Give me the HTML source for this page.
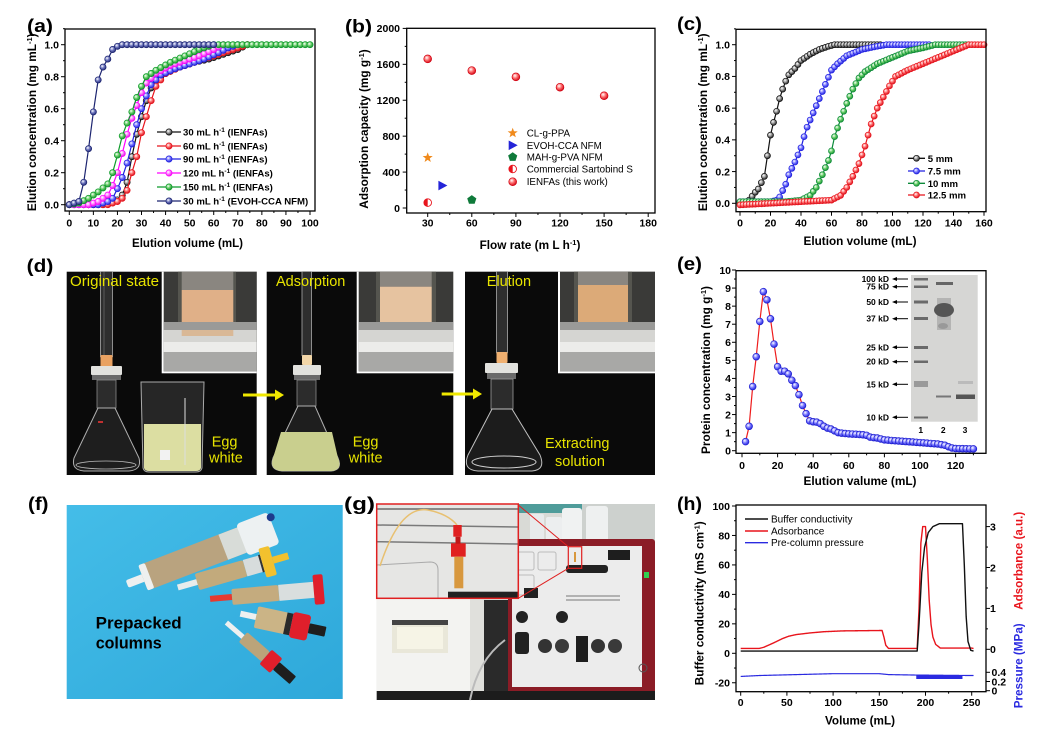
<!DOCTYPE html>
<html><head><meta charset="utf-8"><title>figure</title>
<style>
html,body{margin:0;padding:0;background:#fff;width:1040px;height:736px;overflow:hidden}
svg{display:block}
text{font-family:"Liberation Sans",Arial,sans-serif;fill:#000}
.t{font-size:10.5px;font-weight:bold}
.ti{font-size:11.8px;font-weight:bold}
.pl{font-size:18px;font-weight:bold}
.lg{font-size:9.6px;font-weight:bold}
.lr{font-size:9.8px}
.yl{font-size:14.5px;fill:#e8e400}
.gel{font-family:"Liberation Serif",serif;font-size:8.5px;font-weight:bold}
</style></head><body>
<svg id="s" width="1040" height="736" viewBox="0 0 1040 736" xmlns="http://www.w3.org/2000/svg">
<defs>
<radialGradient id="gK" cx=".38" cy=".35" r=".7"><stop offset="0" stop-color="#fff"/><stop offset=".45" stop-color="#999"/><stop offset="1" stop-color="#111"/></radialGradient>
<radialGradient id="gR" cx=".38" cy=".35" r=".7"><stop offset="0" stop-color="#fff"/><stop offset=".45" stop-color="#ff7070"/><stop offset="1" stop-color="#d00010"/></radialGradient>
<radialGradient id="gB" cx=".38" cy=".35" r=".7"><stop offset="0" stop-color="#fff"/><stop offset=".45" stop-color="#7c7cff"/><stop offset="1" stop-color="#1a1ad8"/></radialGradient>
<radialGradient id="gM" cx=".38" cy=".35" r=".7"><stop offset="0" stop-color="#fff"/><stop offset=".45" stop-color="#ff80ff"/><stop offset="1" stop-color="#e000e0"/></radialGradient>
<radialGradient id="gG" cx=".38" cy=".35" r=".7"><stop offset="0" stop-color="#fff"/><stop offset=".45" stop-color="#6cd06c"/><stop offset="1" stop-color="#0c8a2a"/></radialGradient>
<radialGradient id="gN" cx=".38" cy=".35" r=".7"><stop offset="0" stop-color="#fff"/><stop offset=".45" stop-color="#7078c0"/><stop offset="1" stop-color="#1c2470"/></radialGradient>
<linearGradient id="blueBg" x1="0" y1="0" x2="1" y2="1"><stop offset="0" stop-color="#44bde8"/><stop offset="1" stop-color="#2ea8da"/></linearGradient>
</defs>

<!-- ============ (d) photos ============ -->
<g>
 <rect x="66.7" y="271.7" width="190" height="203.3" fill="#0a0a0a"/>
 <rect x="100" y="271.7" width="13" height="86" fill="#2e2e2e"/>
 <line x1="100.5" y1="271.7" x2="100.5" y2="357" stroke="#9a9a9a" stroke-width=".9"/>
 <line x1="112.5" y1="271.7" x2="112.5" y2="357" stroke="#9a9a9a" stroke-width=".9"/>
 <line x1="104" y1="271.7" x2="104" y2="355" stroke="#777" stroke-width=".6"/>
 <rect x="100.5" y="355" width="12" height="12" rx="1" fill="#e9a262"/>
 <rect x="91" y="366" width="31" height="9" rx="1" fill="#e2e2de"/>
 <rect x="92" y="375" width="29" height="5" fill="#6a6a6a"/>
 <rect x="97" y="380" width="19" height="28" fill="#2c2c2c" stroke="#8a8a8a" stroke-width=".8"/>
 <path d="M98 408 L74 458 Q71 470 84 471 L129 471 Q142 470 139 458 L115 408 Z" fill="#1e1e1e" stroke="#b0b0b0" stroke-width="1"/>
 <ellipse cx="106" cy="465" rx="30" ry="4" fill="none" stroke="#bbb" stroke-width=".8"/>
 <rect x="98" y="421" width="5" height="2" fill="#c03030"/>
 <path d="M141 382 L204 382 L202 468 Q201 472 196 472 L149 472 Q144 472 143 468 Z" fill="#262626" stroke="#aaa" stroke-width="1"/>
 <path d="M144 424 L201 424 L201 468 Q200 471 196 471 L149 471 Q145 471 144 468 Z" fill="#dcdea2"/>
 <rect x="160" y="450" width="10" height="10" fill="#f2f2f2"/>
 <line x1="185" y1="398" x2="185" y2="465" stroke="#ddd" stroke-width="1"/>
 <!-- inset 1 -->
 <rect x="161.7" y="271.7" width="95" height="101.6" fill="#fff"/>
 <rect x="163.7" y="271.7" width="93" height="99.6" fill="#3a3a38"/>
 <rect x="178" y="271.7" width="58" height="55" fill="#55554f"/>
 <rect x="181.7" y="271.7" width="51.6" height="18.3" fill="#8a8680"/>
 <rect x="181.7" y="290" width="51.6" height="40" fill="#e0b088"/>
 <rect x="163.7" y="322" width="93" height="8" fill="#9a9a98"/>
 <rect x="163.7" y="330" width="93" height="12" fill="#d5d5d2"/>
 <rect x="163.7" y="342" width="93" height="10" fill="#ececea"/>
 <rect x="163.7" y="352" width="93" height="19.6" fill="#a8a8a6"/>
 <rect x="181.7" y="330" width="51.6" height="6" fill="#d9b896"/>
</g>
<g>
 <rect x="266.7" y="271.7" width="186.6" height="203.3" fill="#0a0a0a"/>
 <rect x="301.7" y="271.7" width="10" height="84" fill="#2e2e2e"/>
 <line x1="302" y1="271.7" x2="302" y2="356" stroke="#9a9a9a" stroke-width=".9"/>
 <line x1="311.5" y1="271.7" x2="311.5" y2="356" stroke="#9a9a9a" stroke-width=".9"/>
 <rect x="302" y="355" width="10" height="10" rx="1" fill="#f2d6a8"/>
 <rect x="293" y="365" width="28" height="10" rx="1" fill="#e2e2de"/>
 <rect x="294" y="375" width="26" height="5" fill="#6a6a6a"/>
 <rect x="297" y="380" width="19" height="26" fill="#2c2c2c" stroke="#8a8a8a" stroke-width=".8"/>
 <path d="M298 406 L273 458 Q269 470 282 471 L331 471 Q343 470 338 458 L315 406 Z" fill="#1e1e1e" stroke="#b0b0b0" stroke-width="1"/>
 <path d="M281 432 L332 432 L338 458 Q343 470 331 471 L282 471 Q269 470 273 458 Z" fill="#c9cf8e"/>
 <rect x="356.7" y="271.7" width="98.3" height="101.6" fill="#fff"/>
 <rect x="358.7" y="271.7" width="94.6" height="99.6" fill="#3a3a38"/>
 <rect x="376" y="271.7" width="60" height="55" fill="#55554f"/>
 <rect x="380" y="271.7" width="51.7" height="15" fill="#8a8680"/>
 <rect x="380" y="286.7" width="51.7" height="43.3" fill="#e6c3a0"/>
 <rect x="358.7" y="322" width="94.6" height="8" fill="#9a9a98"/>
 <rect x="358.7" y="330" width="94.6" height="12" fill="#d5d5d2"/>
 <rect x="358.7" y="342" width="94.6" height="10" fill="#ececea"/>
 <rect x="358.7" y="352" width="94.6" height="19.6" fill="#a8a8a6"/>
</g>
<g>
 <rect x="465" y="271.7" width="190" height="203.3" fill="#0a0a0a"/>
 <rect x="496" y="271.7" width="12" height="82" fill="#2e2e2e"/>
 <line x1="496.5" y1="271.7" x2="496.5" y2="353" stroke="#9a9a9a" stroke-width=".9"/>
 <line x1="507.5" y1="271.7" x2="507.5" y2="353" stroke="#9a9a9a" stroke-width=".9"/>
 <rect x="496.5" y="352" width="11" height="11" rx="1" fill="#f0b070"/>
 <rect x="485" y="363" width="33" height="10" rx="1" fill="#e2e2de"/>
 <rect x="487" y="373" width="29" height="6" fill="#6a6a6a"/>
 <rect x="491" y="379" width="22" height="30" fill="#2c2c2c" stroke="#9a9a9a" stroke-width=".8"/>
 <path d="M492 409 L468 455 Q462 470 478 471 L532 471 Q546 470 540 455 L512 409 Z" fill="#1c1c1c" stroke="#c0c0c0" stroke-width="1"/>
 <ellipse cx="504" cy="462" rx="32" ry="6" fill="none" stroke="#cfcfcf" stroke-width="1"/>
 <rect x="558" y="271.7" width="97" height="101.6" fill="#fff"/>
 <rect x="560" y="271.7" width="95" height="99.6" fill="#3a3a38"/>
 <rect x="574" y="271.7" width="58" height="55" fill="#55554f"/>
 <rect x="578" y="271.7" width="50" height="13.3" fill="#8a8680"/>
 <rect x="578" y="285" width="50" height="45" fill="#dcaa78"/>
 <rect x="560" y="322" width="95" height="8" fill="#9a9a98"/>
 <rect x="560" y="330" width="95" height="12" fill="#d5d5d2"/>
 <rect x="560" y="342" width="95" height="10" fill="#ececea"/>
 <rect x="560" y="352" width="95" height="19.6" fill="#a8a8a6"/>
</g>
<g fill="#f0e800" stroke="#f0e800">
 <line x1="243" y1="395" x2="276" y2="395" stroke-width="3"/>
 <polygon points="275,389.5 284,395 275,400.5" stroke="none"/>
 <line x1="441.7" y1="394" x2="474" y2="394" stroke-width="3"/>
 <polygon points="473,388.5 482,394 473,399.5" stroke="none"/>
</g>
<text class="yl" x="70" y="286" textLength="89" lengthAdjust="spacingAndGlyphs">Original state</text>
<text class="yl" x="211.7" y="446.5">Egg</text>
<text class="yl" x="209" y="462.7">white</text>
<text class="yl" x="276" y="286">Adsorption</text>
<text class="yl" x="352.7" y="446.5">Egg</text>
<text class="yl" x="348.7" y="462.7">white</text>
<text class="yl" x="486.7" y="286">Elution</text>
<text class="yl" x="545" y="448">Extracting</text>
<text class="yl" x="555" y="466">solution</text>

<!-- ============ (f) photo ============ -->
<rect x="66.7" y="505" width="276" height="194" fill="url(#blueBg)"/>
<g transform="translate(143,578) rotate(-21)">
 <rect x="-17" y="-4" width="19" height="8" rx="2" fill="#eef0f0"/>
 <rect x="0" y="-13.5" width="108" height="27" rx="3" fill="#b9a37f"/>
 <rect x="0" y="-13.5" width="7" height="27" rx="2" fill="#eef0f0"/>
 <rect x="86" y="-13.5" width="22" height="27" fill="#d8dcd8"/>
 <rect x="106" y="-17" width="34" height="34" rx="4" fill="#edf1f2"/>
 <circle cx="141" cy="-11" r="4" fill="#1d3a8c"/>
</g>
<g transform="translate(197,582) rotate(-16)">
 <rect x="-20" y="-3" width="21" height="6" fill="#e8ecec"/>
 <rect x="0" y="-8.5" width="50" height="17" rx="2" fill="#c2aa7c"/>
 <rect x="50" y="-8.5" width="20" height="17" fill="#d7dcdc"/>
 <rect x="66" y="-9" width="2" height="18" fill="#333"/>
 <rect x="68" y="-15" width="11" height="30" rx="2" fill="#f2c12e"/>
 <rect x="79" y="-3.5" width="16" height="7" fill="#f2c12e"/>
</g>
<g transform="translate(232,597) rotate(-5)">
 <rect x="-22" y="-3" width="22" height="6" fill="#e63a30"/>
 <rect x="0" y="-8" width="47" height="16" rx="2" fill="#c4ab7e"/>
 <rect x="47" y="-8" width="36" height="16" fill="#d9dede"/>
 <rect x="82" y="-15" width="10" height="30" rx="2" fill="#e01f2b"/>
</g>
<g transform="translate(256,617) rotate(12)">
 <rect x="-16" y="-3" width="17" height="6" fill="#eef0f0"/>
 <rect x="0" y="-11" width="32" height="22" rx="2" fill="#cbb486"/>
 <rect x="30" y="-11" width="6" height="22" fill="#2a2a2a"/>
 <rect x="36" y="-13" width="18" height="26" rx="3" fill="#e01f2b"/>
 <rect x="54" y="-5" width="17" height="10" rx="1" fill="#1e1e1e"/>
</g>
<g transform="translate(243,637) rotate(41)">
 <rect x="-22" y="-2.5" width="22" height="5" fill="#eef0f0"/>
 <rect x="0" y="-6.5" width="30" height="13" rx="2" fill="#bba47a"/>
 <rect x="30" y="-9.5" width="14" height="19" rx="2" fill="#e01f2b"/>
 <rect x="44" y="-5" width="22" height="10" rx="1" fill="#1e1e1e"/>
</g>
<text x="95.7" y="628.3" font-size="16.5" font-weight="bold" textLength="86" lengthAdjust="spacingAndGlyphs">Prepacked</text>
<text x="95.7" y="648.3" font-size="16.5" font-weight="bold" textLength="66" lengthAdjust="spacingAndGlyphs">columns</text>

<!-- ============ (g) photo ============ -->
<g>
 <rect x="376.7" y="504" width="278.3" height="196" fill="#d9dad6"/>
 <rect x="518" y="504" width="64" height="9" fill="#4f9c9a"/>
 <rect x="582" y="504" width="73" height="36" fill="#cdd1ce"/>
 <rect x="530" y="514" width="14" height="28" rx="2" fill="#e8ebec"/>
 <rect x="546" y="517" width="16" height="26" rx="2" fill="#eceeef"/>
 <rect x="562" y="508" width="20" height="36" rx="3" fill="#f0f2f2"/>
 <rect x="586" y="506" width="22" height="38" rx="3" fill="#eef0f0"/>
 <rect x="484" y="600" width="26" height="95" fill="#2a2a2a"/>
 <rect x="508" y="539" width="147" height="156" rx="3" fill="#8b1c26"/>
 <rect x="512" y="546" width="130" height="141" fill="#ececec"/>
 <rect x="516" y="552" width="18" height="18" rx="2" fill="none" stroke="#bbb"/>
 <rect x="538" y="552" width="18" height="18" rx="2" fill="none" stroke="#bbb"/>
 <rect x="516" y="575" width="18" height="20" rx="2" fill="none" stroke="#bbb"/>
 <rect x="566" y="565" width="42" height="8" rx="3" fill="#222"/>
 <rect x="608" y="550" width="22" height="10" fill="#1e1e1e"/>
 <rect x="524" y="588" width="14" height="10" fill="#222"/>
 <line x1="566" y1="596" x2="620" y2="596" stroke="#777" stroke-width="1"/>
 <line x1="566" y1="600" x2="620" y2="600" stroke="#777" stroke-width="1"/>
 <circle cx="522" cy="617" r="6" fill="#222"/>
 <circle cx="562" cy="617" r="6" fill="#222"/>
 <rect x="515" y="632" width="14" height="22" rx="3" fill="#222"/>
 <circle cx="545" cy="646" r="7" fill="#333"/>
 <circle cx="562" cy="646" r="7" fill="#3a3a3a"/>
 <rect x="576" y="636" width="12" height="26" fill="#1e1e1e"/>
 <circle cx="598" cy="646" r="7" fill="#333"/>
 <circle cx="615" cy="646" r="7" fill="#3a3a3a"/>
 <rect x="644" y="572" width="5" height="6" fill="#30d050"/>
 <circle cx="643" cy="668" r="4" fill="none" stroke="#555"/>
 <rect x="376.7" y="598" width="107" height="95" fill="#f3f3f1"/>
 <rect x="470" y="598" width="14" height="95" fill="#e0e0dc"/>
 <rect x="392" y="620" width="56" height="33" fill="#e9e7d9"/>
 <rect x="392" y="620" width="56" height="5" fill="#444"/>
 <rect x="397" y="627" width="46" height="22" fill="#f6f4e6"/>
 <rect x="376.7" y="691" width="278.3" height="9" fill="#1c1c1c"/>
 <path d="M470 700 Q478 660 505 640" fill="none" stroke="#bbb" stroke-width="2"/>
 <!-- inset -->
 <rect x="376.7" y="504" width="141.6" height="94.3" fill="#e6e6e4"/>
 <line x1="376.7" y1="509" x2="518" y2="509" stroke="#6a6a6a" stroke-width="1.5"/>
 <line x1="376.7" y1="525" x2="518" y2="527" stroke="#7a7a7a" stroke-width="1.5"/>
 <line x1="376.7" y1="541.7" x2="518" y2="544" stroke="#7a7a7a" stroke-width="1.5"/>
 <path d="M376.7 565 L430 562 Q438 562 438 570 L438 598" fill="none" stroke="#aaa" stroke-width="1"/>
 <path d="M380 566 Q400 505 428 510 Q448 514 457 525" fill="none" stroke="#e8c070" stroke-width="1.5"/>
 <rect x="453.3" y="525" width="8.4" height="11.7" fill="#e02020"/>
 <rect x="451" y="543.3" width="14.7" height="13.4" fill="#e02020"/>
 <rect x="455.5" y="536.7" width="5" height="7" fill="#c01818"/>
 <rect x="454.3" y="556.7" width="9" height="31.6" fill="#d8983e"/>
 <rect x="448" y="591.7" width="70" height="6.6" fill="#222"/>
 <rect x="376.7" y="504" width="141.6" height="94.3" fill="none" stroke="#e02020" stroke-width="1.5"/>
 <line x1="518.3" y1="505" x2="568.3" y2="546.7" stroke="#e02020" stroke-width="1"/>
 <line x1="518.3" y1="598.3" x2="568.3" y2="568.3" stroke="#e02020" stroke-width="1"/>
 <rect x="568.3" y="546.7" width="13.4" height="21.6" fill="none" stroke="#e02020" stroke-width="1.2"/>
 <rect x="574" y="552" width="2" height="10" fill="#d8983e"/>
</g>

<!-- ============ (e) gel inset ============ -->
<g>
 <rect x="911" y="275" width="66.7" height="146.7" fill="#d6d6d4"/>
 <g fill="#6a6a6a">
  <rect x="914" y="278" width="14" height="2.5"/>
  <rect x="914" y="285.5" width="14" height="2.5"/>
  <rect x="914" y="300.5" width="14" height="3"/>
  <rect x="914" y="317" width="14" height="3"/>
  <rect x="914" y="346" width="14" height="3"/>
  <rect x="914" y="360.5" width="14" height="2.5"/>
  <rect x="914" y="381" width="14" height="6" fill="#9a9a9a"/>
  <rect x="914" y="416.5" width="14" height="2"/>
 </g>
 <rect x="936" y="282" width="17" height="3" fill="#666"/>
 <rect x="937" y="298" width="14" height="32" fill="#9c9c9c" opacity=".6"/>
 <ellipse cx="944" cy="310" rx="10" ry="7" fill="#555"/>
 <ellipse cx="943" cy="326" rx="5" ry="3" fill="#999"/>
 <rect x="936" y="395.5" width="15" height="2" fill="#777"/>
 <rect x="956" y="394.5" width="19" height="4.5" fill="#555"/>
 <rect x="958" y="381" width="15" height="3" fill="#bbb"/>
 <g stroke="#000" stroke-width="1">
  <line x1="895" y1="279" x2="908" y2="279"/><line x1="895" y1="286.7" x2="908" y2="286.7"/>
  <line x1="895" y1="302" x2="908" y2="302"/><line x1="895" y1="318.7" x2="908" y2="318.7"/>
  <line x1="895" y1="347.3" x2="908" y2="347.3"/><line x1="895" y1="361.7" x2="908" y2="361.7"/>
  <line x1="895" y1="384.3" x2="908" y2="384.3"/><line x1="895" y1="417.3" x2="908" y2="417.3"/>
 </g>
 <g fill="#000">
  <polygon points="892,279 897,277 897,281"/><polygon points="892,286.7 897,284.7 897,288.7"/>
  <polygon points="892,302 897,300 897,304"/><polygon points="892,318.7 897,316.7 897,320.7"/>
  <polygon points="892,347.3 897,345.3 897,349.3"/><polygon points="892,361.7 897,359.7 897,363.7"/>
  <polygon points="892,384.3 897,382.3 897,386.3"/><polygon points="892,417.3 897,415.3 897,419.3"/>
 </g>
 <g class="gel" text-anchor="end">
  <text x="889" y="282">100 kD</text><text x="889" y="289.7">75 kD</text>
  <text x="889" y="305">50 kD</text><text x="889" y="321.7">37 kD</text>
  <text x="889" y="350.3">25 kD</text><text x="889" y="364.7">20 kD</text>
  <text x="889" y="387.3">15 kD</text><text x="889" y="420.3">10 kD</text>
 </g>
 <g class="gel" text-anchor="middle" font-weight="normal">
  <text x="920.7" y="433">1</text><text x="943.3" y="433">2</text><text x="965" y="433">3</text>
 </g>
</g>

<g id="data"></g>
<g id="ticks"></g>

<!-- frames -->
<g fill="none" stroke="#000" stroke-width="1.3">
 <rect x="65" y="29" width="250" height="182"/>
 <rect x="406.7" y="28.3" width="248.3" height="184.7"/>
 <rect x="736" y="29.3" width="250" height="182.4"/>
 <rect x="736" y="270.7" width="250" height="182.6"/>
 <rect x="736" y="505" width="250" height="186.7"/>
</g>

<!-- panel labels -->
<text class="pl" x="27" y="32" textLength="26" lengthAdjust="spacingAndGlyphs">(a)</text>
<text class="pl" x="345" y="32.5" textLength="27" lengthAdjust="spacingAndGlyphs">(b)</text>
<text class="pl" x="677" y="30" textLength="25" lengthAdjust="spacingAndGlyphs">(c)</text>
<text class="pl" x="26.7" y="272" textLength="26.6" lengthAdjust="spacingAndGlyphs">(d)</text>
<text class="pl" x="677" y="270" textLength="25" lengthAdjust="spacingAndGlyphs">(e)</text>
<text class="pl" x="28" y="510" textLength="20.5" lengthAdjust="spacingAndGlyphs">(f)</text>
<text class="pl" x="344" y="510" textLength="31" lengthAdjust="spacingAndGlyphs">(g)</text>
<text class="pl" x="677" y="510" textLength="25" lengthAdjust="spacingAndGlyphs">(h)</text>

<!-- (a) texts -->
<g class="t" text-anchor="end">
 <text x="59" y="208.5">0.0</text><text x="59" y="176.5">0.2</text><text x="59" y="144.5">0.4</text>
 <text x="59" y="112.5">0.6</text><text x="59" y="80.5">0.8</text><text x="59" y="48.5">1.0</text>
</g>
<g class="t" text-anchor="middle">
 <text x="69.3" y="226.5">0</text><text x="93.4" y="226.5">10</text><text x="117.4" y="226.5">20</text>
 <text x="141.5" y="226.5">30</text><text x="165.6" y="226.5">40</text><text x="189.7" y="226.5">50</text>
 <text x="213.7" y="226.5">60</text><text x="237.8" y="226.5">70</text><text x="261.9" y="226.5">80</text>
 <text x="286" y="226.5">90</text><text x="310" y="226.5">100</text>
</g>
<text class="ti" x="187.5" y="247" text-anchor="middle" textLength="111" lengthAdjust="spacingAndGlyphs">Elution volume (mL)</text>
<text class="ti" transform="translate(36,122.3) rotate(-90)" text-anchor="middle">Elution concentration (mg mL<tspan dy="-4" font-size="7.5">-1</tspan><tspan dy="4">)</tspan></text>
<g class="lg">
 <text x="183" y="135.5">30 mL h<tspan dy="-3.5" font-size="6.5">-1</tspan><tspan dy="3.5"> (IENFAs)</tspan></text>
 <text x="183" y="149.5">60 mL h<tspan dy="-3.5" font-size="6.5">-1</tspan><tspan dy="3.5"> (IENFAs)</tspan></text>
 <text x="183" y="162.5">90 mL h<tspan dy="-3.5" font-size="6.5">-1</tspan><tspan dy="3.5"> (IENFAs)</tspan></text>
 <text x="183" y="176.5">120 mL h<tspan dy="-3.5" font-size="6.5">-1</tspan><tspan dy="3.5"> (IENFAs)</tspan></text>
 <text x="183" y="190.5">150 mL h<tspan dy="-3.5" font-size="6.5">-1</tspan><tspan dy="3.5"> (IENFAs)</tspan></text>
 <text x="183" y="204.5">30 mL h<tspan dy="-3.5" font-size="6.5">-1</tspan><tspan dy="3.5"> (EVOH-CCA NFM)</tspan></text>
</g>

<!-- (b) texts -->
<g class="t" text-anchor="end">
 <text x="400" y="211.8">0</text><text x="400" y="175.9">400</text><text x="400" y="140">800</text>
 <text x="400" y="104">1200</text><text x="400" y="68.1">1600</text><text x="400" y="32.2">2000</text>
</g>
<g class="t" text-anchor="middle">
 <text x="427.7" y="226.5">30</text><text x="471.8" y="226.5">60</text><text x="515.9" y="226.5">90</text>
 <text x="560" y="226.5">120</text><text x="604.1" y="226.5">150</text><text x="648.2" y="226.5">180</text>
</g>
<text class="ti" x="530" y="249" text-anchor="middle">Flow rate (m L h<tspan dy="-4" font-size="7.5">-1</tspan><tspan dy="4">)</tspan></text>
<text class="ti" transform="translate(368,129) rotate(-90)" text-anchor="middle">Adsorption capacity (mg g<tspan dy="-4" font-size="7.5">-1</tspan><tspan dy="4">)</tspan></text>
<g class="lr">
 <text x="526.7" y="136.5">CL-g-PPA</text>
 <text x="526.7" y="148.8">EVOH-CCA NFM</text>
 <text x="526.7" y="160.5">MAH-g-PVA NFM</text>
 <text x="526.7" y="172.5">Commercial Sartobind S</text>
 <text x="526.7" y="185.2">IENFAs (this work)</text>
</g>

<!-- (c) texts -->
<g class="t" text-anchor="end">
 <text x="730" y="207.1">0.0</text><text x="730" y="175.4">0.2</text><text x="730" y="143.7">0.4</text>
 <text x="730" y="111.9">0.6</text><text x="730" y="80.2">0.8</text><text x="730" y="48.5">1.0</text>
</g>
<g class="t" text-anchor="middle">
 <text x="740" y="226.5">0</text><text x="770.5" y="226.5">20</text><text x="801" y="226.5">40</text>
 <text x="831.5" y="226.5">60</text><text x="862" y="226.5">80</text><text x="892.5" y="226.5">100</text>
 <text x="923" y="226.5">120</text><text x="953.5" y="226.5">140</text><text x="984" y="226.5">160</text>
</g>
<text class="ti" x="860" y="245" text-anchor="middle" textLength="113" lengthAdjust="spacingAndGlyphs">Elution volume (mL)</text>
<text class="ti" transform="translate(707,122.3) rotate(-90)" text-anchor="middle">Elution concentration (mg mL<tspan dy="-4" font-size="7.5">-1</tspan><tspan dy="4">)</tspan></text>
<g class="lg" font-size="10.5">
 <text x="927.7" y="161.8">5 mm</text>
 <text x="927.7" y="174.5">7.5 mm</text>
 <text x="927.7" y="186.8">10 mm</text>
 <text x="927.7" y="198.5">12.5 mm</text>
</g>

<!-- (e) texts -->
<g class="t" text-anchor="end">
 <text x="731" y="454.5">0</text><text x="731" y="436.4">1</text><text x="731" y="418.4">2</text>
 <text x="731" y="400.3">3</text><text x="731" y="382.2">4</text><text x="731" y="364.2">5</text>
 <text x="731" y="346.1">6</text><text x="731" y="328">7</text><text x="731" y="309.9">8</text>
 <text x="731" y="291.9">9</text><text x="731" y="273.8">10</text>
</g>
<g class="t" text-anchor="middle">
 <text x="742" y="469">0</text><text x="777.6" y="469">20</text><text x="813.2" y="469">40</text>
 <text x="848.8" y="469">60</text><text x="884.4" y="469">80</text><text x="920" y="469">100</text>
 <text x="955.6" y="469">120</text>
</g>
<text class="ti" x="860" y="485" text-anchor="middle" textLength="113" lengthAdjust="spacingAndGlyphs">Elution valume (mL)</text>
<text class="ti" transform="translate(710,370) rotate(-90)" text-anchor="middle">Protein concentration (mg g<tspan dy="-4" font-size="7.5">-1</tspan><tspan dy="4">)</tspan></text>

<!-- (h) texts -->
<g class="t" text-anchor="end">
 <text x="730" y="509.8">100</text><text x="730" y="539.3">80</text><text x="730" y="568.7">60</text>
 <text x="730" y="598.2">40</text><text x="730" y="627.7">20</text><text x="730" y="657.1">0</text>
 <text x="730" y="686.6">-20</text>
</g>
<g class="t" fill="#e8141c">
 <text x="990" y="653.1" fill="#e8141c">0</text><text x="990" y="612.2" fill="#e8141c">1</text>
 <text x="990" y="571.3" fill="#e8141c">2</text><text x="990" y="530.4" fill="#e8141c">3</text>
</g>
<g class="t">
 <text x="991.5" y="676" fill="#2a2ae0">0.4</text><text x="991.5" y="685.3" fill="#2a2ae0">0.2</text>
 <text x="991.5" y="694.5" fill="#2a2ae0">0</text>
</g>
<g class="t" text-anchor="middle">
 <text x="740.7" y="706">0</text><text x="786.9" y="706">50</text><text x="833.1" y="706">100</text>
 <text x="879.3" y="706">150</text><text x="925.5" y="706">200</text><text x="971.7" y="706">250</text>
</g>
<text class="ti" x="860" y="724.5" text-anchor="middle" textLength="70" lengthAdjust="spacingAndGlyphs">Volume (mL)</text>
<text class="ti" transform="translate(703.5,603.3) rotate(-90)" text-anchor="middle">Buffer conductivity (mS cm<tspan dy="-4" font-size="7.5">-1</tspan><tspan dy="4">)</tspan></text>
<text class="ti" transform="translate(1022.5,560.8) rotate(-90)" text-anchor="middle" fill="#e8141c" style="fill:#e8141c" textLength="98" lengthAdjust="spacingAndGlyphs">Adsorbance (a.u.)</text>
<text class="ti" transform="translate(1022.5,665.8) rotate(-90)" text-anchor="middle" style="fill:#2a2ae0" textLength="85" lengthAdjust="spacingAndGlyphs">Pressure (MPa)</text>
<g font-size="10">
 <text x="771" y="522.5">Buffer conductivity</text>
 <text x="771" y="534.5">Adsorbance</text>
 <text x="771" y="546.2">Pre-column pressure</text>
</g>
</svg>

<script>
(function(){
const NS="http://www.w3.org/2000/svg";
const D=document.getElementById('data'), T=document.getElementById('ticks');
function el(t,a,p){const e=document.createElementNS(NS,t);for(const k in a)e.setAttribute(k,a[k]);(p||D).appendChild(e);return e;}
function rng(a,b,s){const r=[];for(let v=a;v<=b+1e-9;v+=s)r.push(+v.toFixed(4));return r;}
function ip(kp,v){if(v<=kp[0][0])return kp[0][1];for(let i=1;i<kp.length;i++){if(v<=kp[i][0]){const a=kp[i-1],b=kp[i];return a[1]+(b[1]-a[1])*(v-a[0])/(b[0]-a[0]);}}return kp[kp.length-1][1];}
function tl(x1,y1,x2,y2,c,w){el('line',{x1:x1,y1:y1,x2:x2,y2:y2,stroke:c||'#000','stroke-width':w||1},T);}
function yt(x,vals,Y,len,dir){vals.forEach(v=>tl(x,Y(v),x+dir*len,Y(v)));}
function xt(y,vals,X,len){vals.forEach(v=>tl(X(v),y,X(v),y+len));}
function line(pts,c,w,p){el('polyline',{points:pts.map(q=>q[0].toFixed(2)+','+q[1].toFixed(2)).join(' '),fill:'none',stroke:c,'stroke-width':w||1.2,'stroke-linejoin':'round'},p);}
function ser(kp,xs,X,Y,c,g,r,lc){const pts=xs.map(v=>[X(v),Y(ip(kp,v))]);line(pts,lc||c,1.2);pts.forEach(q=>el('circle',{cx:q[0].toFixed(2),cy:q[1].toFixed(2),r:r,fill:'url(#'+g+')',stroke:c,'stroke-width':0.7}));}
function leg(x1,x2,y,c,g,r){line([[x1,y],[x2,y]],c,1.3);el('circle',{cx:(x1+x2)/2,cy:y,r:r,fill:'url(#'+g+')',stroke:c,'stroke-width':0.7});}

/* (a) */
let X=v=>69.3+2.407*v, Y=c=>204.7-160*c;
yt(65,rng(0,1,0.2),Y,4,-1); yt(65,rng(0.1,1.1,0.2),Y,2,-1);
xt(211,rng(0,100,10),X,4); xt(211,rng(5,95,10),X,2);
const A=[
 ['#111','gK',[[0,0],[14,0],[18,0.02],[20,0.03],[22,0.06],[24,0.14],[26,0.3],[28,0.44],[30,0.55],[32,0.65],[34,0.73],[36,0.78],[40,0.82],[46,0.86],[52,0.89],[58,0.91],[64,0.94],[70,0.97],[74,1.0]],74],
 ['#e8141c','gR',[[0,0],[16,0],[20,0.02],[22,0.04],[24,0.09],[26,0.2],[28,0.3],[30,0.45],[32,0.55],[34,0.65],[36,0.74],[40,0.82],[46,0.86],[52,0.89],[58,0.92],[64,0.95],[70,0.98],[74,1.0]],74],
 ['#2020e0','gB',[[0,0],[12,0],[16,0.02],[18,0.04],[20,0.1],[22,0.17],[24,0.26],[26,0.38],[28,0.5],[30,0.6],[32,0.68],[34,0.75],[38,0.81],[44,0.85],[50,0.88],[56,0.91],[62,0.95],[66,0.98],[70,1.0]],70],
 ['#ff00ff','gM',[[0,0],[8,0],[12,0.02],[16,0.06],[18,0.12],[20,0.2],[22,0.32],[24,0.44],[26,0.54],[28,0.62],[30,0.7],[32,0.76],[36,0.82],[42,0.87],[48,0.9],[54,0.93],[60,0.97],[64,1.0]],64],
 ['#0c9a2a','gG',[[0,0],[4,0.01],[8,0.04],[12,0.08],[16,0.13],[18,0.2],[20,0.31],[22,0.43],[24,0.51],[26,0.58],[28,0.67],[30,0.74],[32,0.8],[36,0.84],[42,0.89],[48,0.93],[54,0.97],[60,1.0],[100,1.0]],100],
 ['#1c2470','gN',[[0,0],[4,0.02],[6,0.14],[8,0.35],[10,0.58],[12,0.78],[14,0.86],[16,0.91],[18,0.97],[20,0.99],[22,1.0],[100,1.0]],60]
];
A.forEach(s=>ser(s[2],rng(0,s[3],2),X,Y,s[0],s[1],3.1));
[132,146,159,173,187,201].forEach((y,i)=>leg(157,181,y,A[i][0],A[i][1],3.1));

/* (b) */
X=v=>427.7+(v-30)*1.47; Y=c=>208-c*0.0898;
yt(406.7,rng(0,2000,400),Y,4,-1); yt(406.7,rng(200,1800,400),Y,2,-1);
xt(213,rng(30,180,30),X,4); xt(213,rng(45,165,30),X,2);
function sphere(x,y,r){el('circle',{cx:x,cy:y,r:r,fill:'url(#gR)',stroke:'#d00010','stroke-width':0.7});}
function star(x,y,R,r,c){const p=[];for(let k=0;k<10;k++){const a=(-90+k*36)*Math.PI/180,rr=k%2?r:R;p.push((x+rr*Math.cos(a)).toFixed(2)+','+(y+rr*Math.sin(a)).toFixed(2));}el('polygon',{points:p.join(' '),fill:c});}
function tri(x,y,c){el('polygon',{points:(x-4)+','+(y-4.8)+' '+(x+5)+','+y+' '+(x-4)+','+(y+4.8),fill:c});}
function pent(x,y,R,c){const p=[];for(let k=0;k<5;k++){const a=(-90+k*72)*Math.PI/180;p.push((x+R*Math.cos(a)).toFixed(2)+','+(y+R*Math.sin(a)).toFixed(2));}el('polygon',{points:p.join(' '),fill:c});}
function half(x,y,r){el('circle',{cx:x,cy:y,r:r,fill:'#fff',stroke:'#e8141c','stroke-width':0.9});el('path',{d:'M'+x+' '+(y-r)+' A'+r+' '+r+' 0 0 0 '+x+' '+(y+r)+' Z',fill:'#e8141c'});}
[[30,1660],[60,1530],[90,1460],[120,1345],[150,1250]].forEach(p=>sphere(X(p[0]),Y(p[1]),3.9));
star(X(30),Y(560),5.3,2.2,'#f08a1c'); tri(X(40),Y(250),'#2424d8'); pent(X(60),Y(90),4.8,'#0f7a3a'); half(X(30),Y(60),3.8);
star(512.7,133,5.3,2.2,'#f08a1c'); tri(512.7,145.3,'#2424d8'); pent(512.7,157,4.8,'#0f7a3a'); half(512.7,169,3.8); sphere(512.7,181.7,3.9);

/* (c) */
X=v=>740+1.525*v; Y=c=>203.3-158.6*c;
yt(736,rng(0,1,0.2),Y,4,-1); yt(736,rng(0.1,1.1,0.2),Y,2,-1);
xt(211.7,rng(0,160,20),X,4); xt(211.7,rng(10,150,20),X,2);
const C=[
 ['#111','gK',[[0,0],[4,0],[6,0.02],[10,0.07],[12,0.09],[14,0.13],[16,0.17],[18,0.3],[20,0.43],[22,0.51],[24,0.58],[26,0.66],[28,0.72],[30,0.77],[32,0.81],[36,0.85],[40,0.9],[46,0.94],[52,0.97],[58,0.99],[62,1.0],[92,1.0]],92],
 ['#2020e0','gB',[[0,0.01],[20,0.01],[24,0.02],[26,0.04],[28,0.08],[30,0.12],[32,0.18],[36,0.26],[40,0.35],[42,0.42],[44,0.48],[48,0.57],[52,0.66],[56,0.75],[60,0.84],[64,0.88],[70,0.93],[80,0.97],[90,0.99],[96,1.0],[124,1.0]],124],
 ['#0c8a3a','gG',[[0,0.01],[30,0.01],[40,0.02],[46,0.05],[50,0.1],[54,0.18],[58,0.27],[60,0.33],[62,0.42],[66,0.53],[70,0.63],[74,0.72],[78,0.79],[82,0.83],[90,0.88],[100,0.92],[110,0.96],[120,0.98],[128,1.0],[150,1.0]],150],
 ['#e8141c','gR',[[0,-0.01],[40,0.01],[60,0.02],[66,0.05],[70,0.1],[74,0.17],[78,0.25],[82,0.36],[86,0.5],[90,0.6],[94,0.67],[98,0.74],[102,0.8],[110,0.84],[120,0.88],[130,0.92],[140,0.96],[150,1.0],[160,1.0]],160]
];
C.forEach(s=>ser(s[2],rng(0,s[3],2),X,Y,s[0],s[1],3));
[158.3,171,183.3,195].forEach((y,i)=>leg(908,925,y,C[i][0],C[i][1],3));

/* (e) */
X=v=>742+1.78*v; Y=c=>450.7-18.07*c;
yt(736,rng(0,10,1),Y,4,-1); yt(736,rng(0.5,9.5,1),Y,2,-1);
xt(453.3,rng(0,120,20),X,4); xt(453.3,rng(10,130,20),X,2);
const E=[[2,0.5],[4,1.35],[6,3.55],[8,5.2],[10,7.15],[12,8.8],[14,8.35],[16,7.3],[18,5.9],[20,4.65],[22,4.4],[24,4.4],[26,4.25],[28,3.9],[30,3.6],[32,3.1],[34,2.5],[36,2.05],[38,1.65],[40,1.6],[42,1.58],[44,1.5],[46,1.35],[48,1.25],[50,1.2],[52,1.1],[54,1.0],[56,0.97],[60,0.93],[64,0.91],[68,0.88],[70,0.85],[72,0.75],[76,0.7],[80,0.6],[86,0.55],[90,0.52],[100,0.45],[106,0.4],[110,0.37],[114,0.3],[116,0.22],[118,0.15],[120,0.12],[130,0.1]];
ser(E,rng(2,130,2),X,Y,'#2020d0','gB',3.4,'#ee1c1c');

/* (h) */
X=v=>740.7+0.924*v; Y=c=>653.3-1.473*c; const YR=a=>649.3-40.9*a, YP=p=>690.7-46*p;
yt(736,rng(-20,100,20),Y,4,-1); yt(736,rng(-10,90,20),Y,2,-1);
yt(986,rng(0,3,1),YR,4,1); yt(986,rng(0.5,3,1),YR,2,1); yt(986,[0,0.2,0.4],YP,4,1);
xt(691.7,rng(0,250,50),X,4); xt(691.7,rng(25,225,50),X,2);
const HB=[[0,1.5],[191,1.5],[193,20],[196,55],[199,72],[203,82],[208,86],[215,88],[240,88],[242,60],[244,25],[246,8],[249,2],[252,1.5]];
const HR=[[0,0.02],[20,0.02],[25,0.05],[35,0.15],[45,0.26],[52,0.32],[60,0.36],[75,0.4],[90,0.43],[110,0.45],[153,0.46],[155,0.3],[157,0.1],[160,0.02],[191,0.02],[193,1.0],[195,2.6],[197,3.0],[200,3.0],[202,2.2],[204,1.2],[206,0.6],[208,0.3],[211,0.12],[216,0.03],[250,0.03],[252,0.02]];
const HP=[[0,0.31],[20,0.33],[60,0.35],[100,0.37],[150,0.37],[160,0.35],[190,0.34],[250,0.33]];
const xs=rng(0,252,0.5);
line(xs.map(v=>[X(v),YP(ip(HP,v))]),'#2a2ae0',1.2);
el('rect',{x:X(190),y:675.5,width:X(240)-X(190),height:3.5,fill:'#2a2ae0'});
line(xs.map(v=>[X(v),YR(ip(HR,v))]),'#e8141c',1.4);
line(xs.map(v=>[X(v),Y(ip(HB,v))]),'#111',1.4);
line([[745,519],[768,519]],'#111',1.4); line([[745,531],[768,531]],'#e8141c',1.4); line([[745,542.7],[768,542.7]],'#2a2ae0',1.4);
})();
</script>
</body></html>
